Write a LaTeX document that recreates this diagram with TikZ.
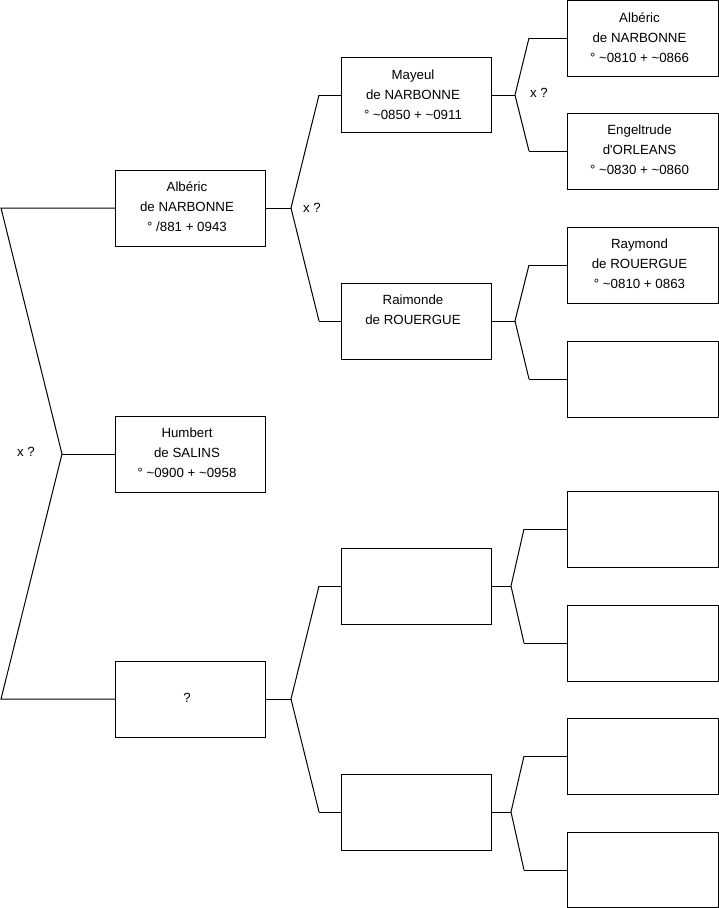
\documentclass[tikz,border=0pt]{standalone}
\usepackage{fontspec}
\newfontfamily\boxfont{Liberation Sans}
\begin{document}
\begin{tikzpicture}[x=1pt,y=-1pt,
  box/.style={draw=black,line width=1pt,rectangle,inner sep=0pt,outer sep=0pt,minimum width=150pt,minimum height=76pt},
  boxr/.style={box,minimum width=151pt},
  txt/.style={anchor=north,inner sep=0pt,align=center,font=\boxfont\fontsize{13.3}{20}\selectfont},
  lab/.style={inner sep=0pt,font=\boxfont\fontsize{13.3}{20}\selectfont},
  conn/.style={draw=black,line width=1pt}]
\useasboundingbox (0,0) rectangle (719,908);
\newcommand{\st}{\rule{0pt}{10pt}}
\newcommand{\tl}{\textasciitilde}
% level 1
\node[box] (b1) at (190,208) {};
\node[box] (b2) at (190,454) {};
\node[box] (b3) at (190,699) {};
% level 2
\node[box,minimum height=75pt] (m1) at (416,95) {};
\node[box] (m2) at (416,321) {};
\node[box] (m3) at (416,586) {};
\node[box] (m4) at (416,812) {};
% level 3
\node[boxr,minimum height=75.5pt] (r1) at (642.5,38.25) {};
\node[boxr] (r2) at (642.5,151) {};
\node[boxr] (r3) at (642.5,265) {};
\node[boxr] (r4) at (642.5,379) {};
\node[boxr] (r5) at (642.5,529) {};
\node[boxr] (r6) at (642.5,643) {};
\node[boxr] (r7) at (642.5,756) {};
\node[boxr,minimum height=75.5pt] (r8) at (642.5,869.75) {};
% texts
\node[txt] (t1) at ([xshift=-3pt,yshift=-11.5pt]b1.north) {\st Albéric\\de NARBONNE\\° /881 + 0943};
\node[txt] (t2) at ([xshift=-3pt,yshift=-11.5pt]b2.north) {\st Humbert\\de SALINS\\° \tl0900 + \tl0958};
\node[lab] (t3) at ([xshift=-3pt,yshift=1pt]b3.center) {?};
\node[txt] (t4) at ([xshift=-3pt,yshift=-11.5pt]m1.north) {\st Mayeul\\de NARBONNE\\° \tl0850 + \tl0911};
\node[txt] (t5) at ([xshift=-3pt,yshift=-11.5pt]m2.north) {\st Raimonde\\de ROUERGUE};
\node[txt] (t6) at ([xshift=-3pt,yshift=-11.5pt]r1.north) {\st Albéric\\de NARBONNE\\° \tl0810 + \tl0866};
\node[txt] (t7) at ([xshift=-3pt,yshift=-11.5pt]r2.north) {\st Engeltrude\\d'ORLEANS\\° \tl0830 + \tl0860};
\node[txt] (t8) at ([xshift=-3pt,yshift=-11.5pt]r3.north) {\st Raymond\\de ROUERGUE\\° \tl0810 + 0863};
% fork coordinates
\coordinate (f0) at (62,454);
\coordinate (f0a) at (1,208);
\coordinate (f0b) at (1,699);
\coordinate (f1) at (291,208);
\coordinate (f1a) at (319,95);
\coordinate (f1b) at (319,321);
\coordinate (f2) at (291,699);
\coordinate (f2a) at (319,586);
\coordinate (f2b) at (319,812);
\coordinate (g1) at (515,95);
\coordinate (g1a) at (529,38);
\coordinate (g1b) at (529,151);
\coordinate (g2) at (515,321);
\coordinate (g2a) at (529,265);
\coordinate (g2b) at (529,379);
\coordinate (g3) at (511,586);
\coordinate (g3a) at (524,529);
\coordinate (g3b) at (524,643);
\coordinate (g4) at (511,812);
\coordinate (g4a) at (524,756);
\coordinate (g4b) at (524,870);
% connectors
\draw[conn] (b1.west) -- (f0a) -- (f0) -- (f0b) -- (b3.west);
\draw[conn] (f0) -- (b2.west);
\draw[conn] (b1.east) -- (f1);
\draw[conn] (f1a) -- (f1) -- (f1b);
\draw[conn] (f1a) -- (m1.west);
\draw[conn] (f1b) -- (m2.west);
\draw[conn] (b3.east) -- (f2);
\draw[conn] (f2a) -- (f2) -- (f2b);
\draw[conn] (f2a) -- (m3.west);
\draw[conn] (f2b) -- (m4.west);
\draw[conn] (m1.east) -- (g1);
\draw[conn] (g1a) -- (g1) -- (g1b);
\draw[conn] (g1a) -- (r1.west |- g1a);
\draw[conn] (g1b) -- (r2.west);
\draw[conn] (m2.east) -- (g2);
\draw[conn] (g2a) -- (g2) -- (g2b);
\draw[conn] (g2a) -- (r3.west);
\draw[conn] (g2b) -- (r4.west);
\draw[conn] (m3.east) -- (g3);
\draw[conn] (g3a) -- (g3) -- (g3b);
\draw[conn] (g3a) -- (r5.west);
\draw[conn] (g3b) -- (r6.west);
\draw[conn] (m4.east) -- (g4);
\draw[conn] (g4a) -- (g4) -- (g4b);
\draw[conn] (g4a) -- (r7.west);
\draw[conn] (g4b) -- (r8.west |- g4b);
% labels
\node[lab] (x0) at (26,452) {x ?};
\node[lab] (x1) at (312,208) {x ?};
\node[lab] (x2) at (539,93) {x ?};
\end{tikzpicture}
\end{document}
